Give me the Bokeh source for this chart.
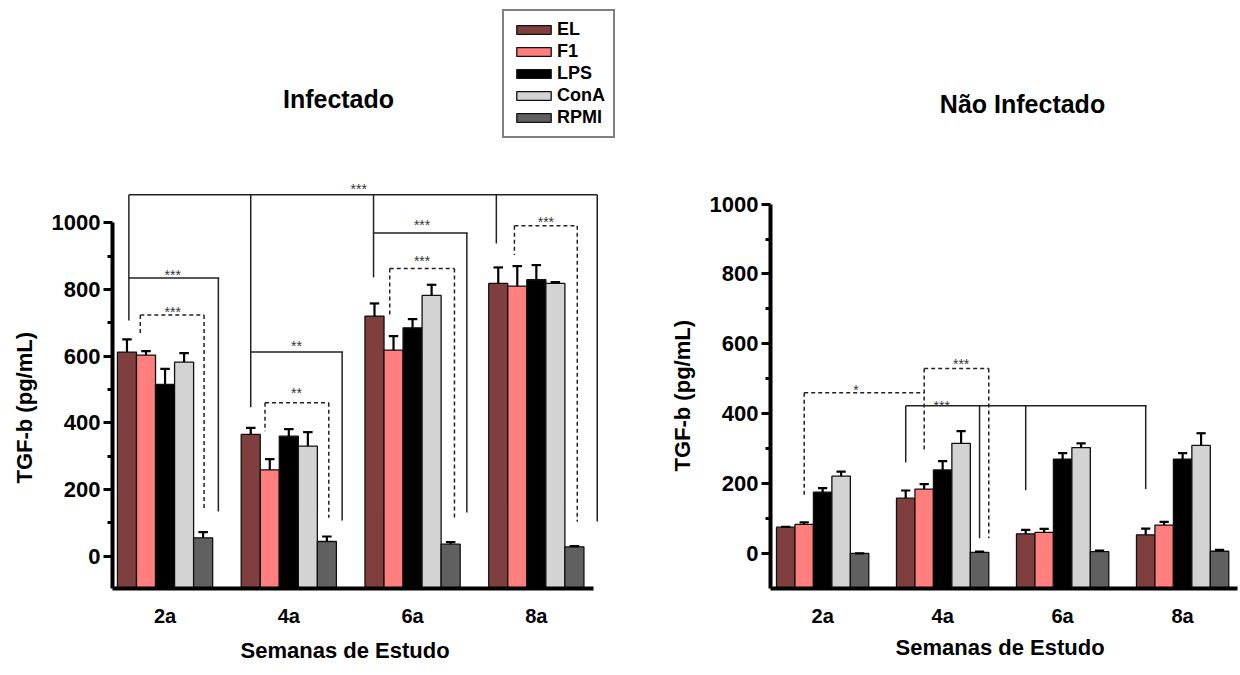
from bokeh.plotting import figure
from bokeh.layouts import row
from bokeh.models import FixedTicker, Legend, LegendItem, Label, Title, ColumnDataSource
from bokeh.embed import file_html
from bokeh.resources import INLINE
from bokeh.core.properties import value

FONT = "Liberation Sans"

# ---------------- data ----------------
weeks = ["2a", "4a", "6a", "8a"]
treatments = ["EL", "F1", "LPS", "ConA", "RPMI"]
colors = ["#7f3f3f", "#ff7f7f", "#000000", "#d3d3d3", "#606060"]

# Infectado (mean, SEM)
inf_EL = [612, 365, 720, 818]
inf_EL_err = [38, 20, 38, 48]
inf_F1 = [603, 259, 618, 810]
inf_F1_err = [12, 32, 42, 60]
inf_LPS = [515, 360, 685, 829]
inf_LPS_err = [47, 21, 26, 44]
inf_ConA = [582, 330, 782, 818]
inf_ConA_err = [27, 42, 32, 4]
inf_RPMI = [55, 44, 36, 28]
inf_RPMI_err = [17, 15, 6, 2]

# Não Infectado (mean, SEM)
non_EL = [75, 158, 56, 53]
non_EL_err = [1, 22, 11, 18]
non_F1 = [83, 184, 60, 81]
non_F1_err = [6, 14, 10, 9]
non_LPS = [175, 239, 270, 270]
non_LPS_err = [12, 25, 17, 17]
non_ConA = [221, 315, 303, 309]
non_ConA_err = [13, 35, 12, 35]
non_RPMI = [0, 3, 5, 6]
non_RPMI_err = [0, 2, 3, 4]

y_ticks = [0, 200, 400, 600, 800, 1000]
y_minor = [100, 300, 500, 700, 900]

# significance brackets: horizontals (x0, x1, y, dashed), verticals (x, y_top, y_bottom, dashed), labels (x, y, text)
inf_sig_h = [(0.6, 25.2, 1084, 0), (0.6, 5.35, 834, 0), (1.2, 4.55, 723, 1), (7.0, 11.85, 612, 0),
             (7.75, 11.1, 460, 1), (13.45, 18.4, 969, 0), (14.3, 17.7, 863, 1), (20.85, 24.15, 991, 1)]
inf_sig_v = [(0.6, 1084, 707, 0), (7.0, 1084, 447, 0), (13.45, 1084, 836, 0), (19.9, 1084, 938, 0),
             (25.2, 1084, 104, 0), (5.3, 834, 134, 0), (1.2, 723, 660, 1), (4.55, 723, 136, 1),
             (11.8, 612, 107, 0), (7.75, 460, 375, 1), (11.1, 460, 115, 1), (18.35, 969, 131, 0),
             (14.3, 863, 718, 1), (17.7, 863, 108, 1), (20.85, 991, 903, 1), (24.15, 991, 103, 1)]
inf_sig_t = [(12.67, 1126, "***"), (2.9, 868, "***"), (2.9, 757, "***"), (9.4, 653, "**"),
             (9.4, 512, "**"), (16.0, 1018, "***"), (16.0, 908, "***"), (22.5, 1026, "***")]

non_sig_h = [(1.5, 8.0, 460, 1), (8.0, 11.5, 529, 1), (7.0, 20.05, 423, 0)]
non_sig_v = [(1.5, 460, 165, 1), (8.0, 529, 291, 1), (11.5, 529, 43, 1), (7.0, 423, 260, 0),
             (11.0, 423, 43, 0), (13.5, 423, 181, 0), (20.0, 423, 184, 0)]
non_sig_t = [(4.3, 491, "*"), (10.0, 564, "***"), (8.95, 444, "***")]

GROUP_PITCH = 6.5
Y_LABEL = "TGF-b (pg/mL)"
X_LABEL = "Semanas de Estudo"


def style_axes(p, x0, y0):
    p.xgrid.visible = False
    p.ygrid.visible = False
    p.outline_line_color = None
    p.background_fill_color = "white"
    p.border_fill_color = "white"
    ya = p.yaxis[0]
    ya.ticker = FixedTicker(ticks=y_ticks, minor_ticks=y_minor)
    ya.bounds = (y0, 1000)
    ya.axis_line_width = 4
    ya.axis_line_color = "black"
    ya.major_tick_line_width = 3
    ya.major_tick_out = 9
    ya.major_tick_in = 0
    ya.minor_tick_line_width = 3
    ya.minor_tick_out = 5
    ya.minor_tick_in = 0
    ya.major_label_standoff = 3
    ya.major_label_text_font = FONT
    ya.major_label_text_font_size = "22px"
    ya.major_label_text_font_style = "bold"
    ya.major_label_text_color = "black"
    xa = p.xaxis[0]
    centers = [g * GROUP_PITCH + 2.5 for g in range(len(weeks))]
    xa.ticker = FixedTicker(ticks=centers, minor_ticks=[])
    xa.major_label_overrides = {c: w for c, w in zip(centers, weeks)}
    xa.bounds = (x0, 25.0)
    xa.axis_line_width = 4
    xa.axis_line_color = "black"
    xa.major_tick_line_color = None
    xa.major_tick_out = 0
    xa.major_tick_in = 0
    xa.minor_tick_line_color = None
    xa.major_label_standoff = 16
    xa.major_label_text_font = FONT
    xa.major_label_text_font_size = "20px"
    xa.major_label_text_font_style = "bold"
    xa.major_label_text_color = "black"


def side_title(p, text, place, offset, standoff):
    p.add_layout(Title(text=text, align="left", offset=offset, vertical_align="top",
                       standoff=standoff, text_font=FONT, text_font_size="22px",
                       text_font_style="bold", text_color="black"), place)


def add_label(p, text, x, y, size="25px"):
    p.add_layout(Label(x=x, y=y, x_units="screen", y_units="screen", text=text,
                       text_align="center", text_baseline="middle", text_font=FONT,
                       text_font_size=size, text_font_style="bold", text_color="black"))


def draw_bars(p, series, errs, y0):
    renderers = []
    for k, (vals, ev) in enumerate(zip(series, errs)):
        xs = [g * GROUP_PITCH + k + 0.5 for g in range(len(vals))]
        src = ColumnDataSource(dict(
            x=xs, top=vals, err_top=[v + e for v, e in zip(vals, ev)],
            cx0=[x - 0.25 for x in xs], cx1=[x + 0.25 for x in xs]))
        r = p.vbar(x="x", top="top", bottom=y0, width=1.0, source=src,
                   fill_color=colors[k], line_color="#111111", line_width=1.3)
        p.segment(x0="x", y0="top", x1="x", y1="err_top", source=src,
                  line_color="black", line_width=2.2)
        p.segment(x0="cx0", y0="err_top", x1="cx1", y1="err_top", source=src,
                  line_color="black", line_width=2.2)
        renderers.append(r)
    return renderers


def draw_sig(p, sig_h, sig_v, sig_t):
    for dashed in (0, 1):
        hs = [h for h in sig_h if h[3] == dashed]
        vs = [v for v in sig_v if v[3] == dashed]
        x0 = [h[0] for h in hs] + [v[0] for v in vs]
        x1 = [h[1] for h in hs] + [v[0] for v in vs]
        y0 = [h[2] for h in hs] + [v[1] for v in vs]
        y1 = [h[2] for h in hs] + [v[2] for v in vs]
        p.segment(x0=x0, y0=y0, x1=x1, y1=y1, line_color="#222222",
                  line_width=1.5, line_dash="4 3" if dashed else "solid")
    p.text(x=[t[0] for t in sig_t], y=[t[1] for t in sig_t], text=[t[2] for t in sig_t],
           text_font=value(FONT), text_font_size="14px", text_align="center",
           text_baseline="alphabetic", y_offset=8, text_color="#333333")


H = 674

# ---------------- left: Infectado ----------------
W1 = 648
L1, B1 = 112, 86
x_start1, px_unit1 = -0.26, 19.04
y_start1, px_val1 = -97.0, 0.3334
p1 = figure(width=W1, height=H, output_backend="svg", toolbar_location=None,
            x_range=(x_start1, x_start1 + (W1 - L1) / px_unit1),
            y_range=(y_start1, y_start1 + (H - B1) / px_val1),
            min_border_left=L1, min_border_right=0, min_border_top=0, min_border_bottom=B1)
style_axes(p1, x_start1, y_start1)
bars1 = draw_bars(p1, [inf_EL, inf_F1, inf_LPS, inf_ConA, inf_RPMI],
                  [inf_EL_err, inf_F1_err, inf_LPS_err, inf_ConA_err, inf_RPMI_err], y_start1)
draw_sig(p1, inf_sig_h, inf_sig_v, inf_sig_t)
add_label(p1, "Infectado", 226, 490)
side_title(p1, Y_LABEL, "left", 105, 20)
side_title(p1, X_LABEL, "below", 128, 17)
legend = Legend(items=[LegendItem(label=t, renderers=[r]) for t, r in zip(treatments, bars1)],
                location=(390, 450), orientation="vertical", margin=0, padding=8, spacing=1,
                glyph_width=43, glyph_height=11, label_standoff=2, label_height=20,
                label_text_font=FONT, label_text_font_size="18px", label_text_font_style="bold",
                label_text_color="black", border_line_color="black", border_line_width=2,
                background_fill_color="white", background_fill_alpha=1.0)
p1.add_layout(legend)

# ---------------- right: Não Infectado ----------------
W2 = 590
L2, B2 = 122, 80
x_start2, px_unit2 = -0.325, 18.46
y_start2, px_val2 = -100.6, 0.3528
p2 = figure(width=W2, height=H, output_backend="svg", toolbar_location=None,
            x_range=(x_start2, x_start2 + (W2 - L2) / px_unit2),
            y_range=(y_start2, y_start2 + (H - B2) / px_val2),
            min_border_left=L2, min_border_right=0, min_border_top=0, min_border_bottom=B2)
style_axes(p2, x_start2, y_start2)
side_title(p2, X_LABEL, "below", 125, 11)
draw_bars(p2, [non_EL, non_F1, non_LPS, non_ConA, non_RPMI],
          [non_EL_err, non_F1_err, non_LPS_err, non_ConA_err, non_RPMI_err], y_start2)
draw_sig(p2, non_sig_h, non_sig_v, non_sig_t)
add_label(p2, "Não Infectado", 252, 485)
side_title(p2, Y_LABEL, "left", 117, 20)

layout = row(p1, p2)
open("out.html", "w").write(file_html(layout, INLINE))
